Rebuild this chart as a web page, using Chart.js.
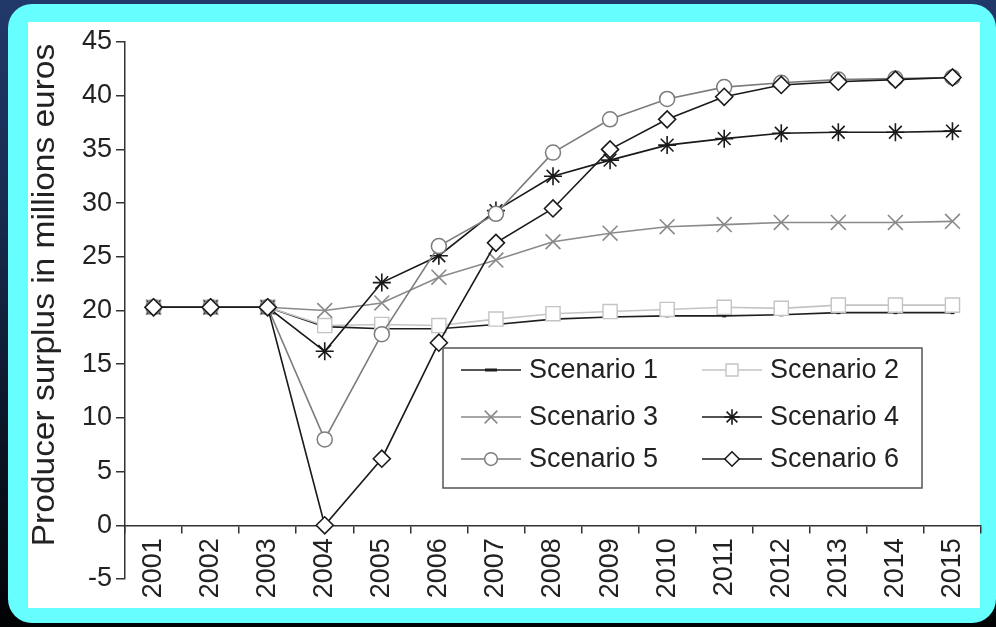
<!DOCTYPE html>
<html>
<head>
<meta charset="utf-8">
<script src="https://cdn.jsdelivr.net/npm/chart.js@4.4.1/dist/chart.umd.min.js"></script>
<style>
html, body { margin: 0; padding: 0; }
body {
    width: 996px; height: 627px; overflow: hidden; position: relative;
    background: linear-gradient(180deg, #21396a 0%, #172a4e 35%, #0a111f 75%, #020305 100%);
}
#moldura { position: absolute; left: 8px; top: 4px; width: 988px; height: 619px; background: #66fefe; border-radius: 24px; }
#painel { position: absolute; left: 28px; top: 22px; width: 952px; height: 586px; background: #fff; }
#caixa { position: absolute; left: 0; top: 0; width: 996px; height: 627px; }
</style>
</head>
<body>
<div id="moldura"></div>
<div id="painel"></div>
<div id="caixa"><canvas id="myChart"></canvas></div>
<script>
// anos e valores (milhoes de euros)
const anos = ['2001', '2002', '2003', '2004', '2005', '2006', '2007', '2008',
              '2009', '2010', '2011', '2012', '2013', '2014', '2015'];
const cenario1 = [20.3, 20.3, 20.3, 18.5, 18.3, 18.3, 18.7, 19.2, 19.4, 19.5, 19.5, 19.6, 19.8, 19.8, 19.8];
const cenario2 = [20.3, 20.3, 20.3, 18.6, 18.7, 18.6, 19.2, 19.7, 19.9, 20.1, 20.3, 20.2, 20.5, 20.5, 20.5];
const cenario3 = [20.3, 20.3, 20.3, 20.0, 20.7, 23.1, 24.7, 26.4, 27.2, 27.8, 28.0, 28.2, 28.2, 28.2, 28.3];
const cenario4 = [20.3, 20.3, 20.3, 16.2, 22.6, 25.1, 29.3, 32.5, 34.0, 35.4, 36.0, 36.5, 36.6, 36.6, 36.7];
const cenario5 = [20.3, 20.3, 20.3, 8.0, 17.8, 26.0, 29.0, 34.7, 37.8, 39.7, 40.8, 41.2, 41.5, 41.6, 41.7];
const cenario6 = [20.3, 20.3, 20.3, 0.0, 6.2, 17.0, 26.3, 29.5, 35.0, 37.8, 39.9, 41.0, 41.3, 41.5, 41.7];
const nomes = ['Scenario 1', 'Scenario 2', 'Scenario 3', 'Scenario 4', 'Scenario 5', 'Scenario 6'];

const fonte = 'Liberation Sans';

function serie(nome, valores, cor, estilo, raio, espessura, ordem) {
    return {
        label: nome,
        data: valores,
        borderColor: cor,
        borderWidth: 1.6,
        pointStyle: estilo,
        pointRadius: raio,
        pointBorderColor: cor,
        pointBackgroundColor: '#fff',
        pointBorderWidth: espessura,
        tension: 0,
        order: ordem
    };
}

// ordem maior fica por baixo: cenario 6 desenhado por cima
const series = [
    serie(nomes[0], cenario1, '#1e1e1e', 'line', 2, 3, 6),
    serie(nomes[1], cenario2, '#c4c4c4', 'rect', 10, 1.4, 5),
    serie(nomes[2], cenario3, '#8a8a8a', 'crossRot', 10.5, 1.6, 4),
    serie(nomes[3], cenario4, '#1a1a1a', 'star', 9, 1.6, 3),
    serie(nomes[4], cenario5, '#7c7c7c', 'circle', 7.5, 1.5, 2),
    serie(nomes[5], cenario6, '#1a1a1a', 'rectRot', 8.5, 1.6, 1)
];

// titulo do eixo y (fora do centro do eixo, como no original)
const tituloY = {
    id: 'tituloY',
    afterDraw(chart) {
        const ctx = chart.ctx;
        ctx.save();
        ctx.translate(45, 295);
        ctx.rotate(-Math.PI / 2);
        ctx.scale(1.08, 1);
        ctx.font = '31px "' + fonte + '"';
        ctx.fillStyle = '#222';
        ctx.textAlign = 'center';
        ctx.textBaseline = 'middle';
        ctx.fillText('Producer surplus in millions euros', 0, 0);
        ctx.restore();
    }
};

// legenda em caixa dentro da area do grafico
const legenda = {
    id: 'legenda',
    afterDraw(chart) {
        const ctx = chart.ctx;
        const colunas = [461, 702];
        const linhas = [370, 417, 459];
        ctx.save();
        ctx.fillStyle = '#fff';
        ctx.fillRect(443, 348, 479, 140);
        ctx.strokeStyle = '#555';
        ctx.lineWidth = 1.5;
        ctx.strokeRect(443, 348, 479, 140);
        chart.data.datasets.forEach((ds, i) => {
            const x0 = colunas[i % 2];
            const y0 = linhas[Math.floor(i / 2)];
            ctx.strokeStyle = ds.borderColor;
            ctx.lineWidth = ds.borderWidth;
            ctx.beginPath();
            ctx.moveTo(x0, y0);
            ctx.lineTo(x0 + 60, y0);
            ctx.stroke();
            ctx.fillStyle = ds.pointBackgroundColor;
            ctx.strokeStyle = ds.pointBorderColor;
            ctx.lineWidth = ds.pointBorderWidth;
            const r = ds.pointStyle === 'line' ? 6 : ds.pointRadius * 0.85;
            Chart.helpers.drawPoint(ctx, {
                pointStyle: ds.pointStyle, radius: r, rotation: 0, borderWidth: ds.pointBorderWidth
            }, x0 + 30, y0);
            ctx.fillStyle = '#222';
            ctx.font = '27px "' + fonte + '"';
            ctx.textAlign = 'left';
            ctx.textBaseline = 'middle';
            ctx.fillText(ds.label, x0 + 68, y0 + 1);
        });
        ctx.restore();
    }
};

new Chart('myChart', {
    type: 'line',
    data: {
        labels: anos,
        datasets: series
    },
    options: {
        responsive: true,
        maintainAspectRatio: false,
        animation: false,
        layout: { padding: { left: 0, top: 42, right: 15, bottom: 48 } },
        plugins: {
            legend: { display: false },
            tooltip: { enabled: false }
        },
        scales: {
            x: {
                type: 'category',
                position: { y: 0 },
                offset: true,
                grid: { offset: true, drawOnChartArea: false, drawTicks: true, tickLength: 7, color: '#333', lineWidth: 1.5 },
                border: { display: true, color: '#333', width: 1.5 },
                ticks: {
                    color: '#222', font: { family: fonte, size: 27 },
                    minRotation: 90, maxRotation: 90, padding: 6, autoSkip: false
                }
            },
            y: {
                min: -5,
                max: 45,
                ticks: { stepSize: 5, color: '#222', font: { family: fonte, size: 27 }, padding: 4 },
                grid: { drawOnChartArea: false, tickLength: 9, color: '#333', lineWidth: 1.5 },
                border: { display: true, color: '#333', width: 1.5 },
                afterFit: s => { s.width = 125; }
            }
        }
    },
    plugins: [tituloY, legenda]
});
</script>
</body>
</html>
